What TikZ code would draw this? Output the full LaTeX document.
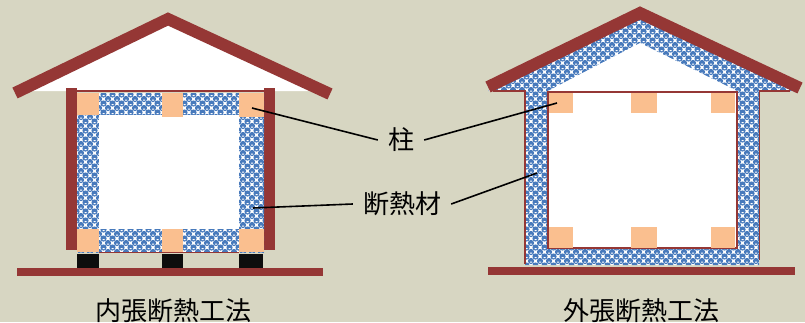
\documentclass[tikz,border=0pt]{standalone}
\usepackage{fontspec}
\setmainfont{Noto Sans CJK JP}
\usepackage{tikz}

\definecolor{bg}{RGB}{215,214,194}
\definecolor{roofred}{RGB}{149,55,53}
\definecolor{postorange}{RGB}{250,191,143}
\definecolor{bubbleblue}{RGB}{72,122,188}

\tikzset{
roof/.style={
	draw=roofred,
	line width=12pt,
	line join=miter
},
wall/.style={
	fill=roofred
},
thinred/.style={
	draw=roofred,
	line width=1.2pt
},
bead/.style={
	fill=bubbleblue
},
post/.style={
	fill=postorange
},
footing/.style={
	fill=black!95
},
callout/.style={
	font=\fontsize{26pt}{30pt}\selectfont,
	inner xsep=10pt,
	inner ysep=0pt
},
caption/.style={
	font=\fontsize{26pt}{30pt}\selectfont,
	anchor=north,
	inner sep=0pt
},
leader/.style={
	draw=black,
	line width=1.6pt
}
}

\begin{document}
\begin{tikzpicture}[x=1pt, y=-1pt]

\useasboundingbox (0,0) rectangle (805,322);
\fill[bg] (0,0) rectangle (805,322);

% inside insulation
\fill[white] (20,91) -- (168,19) -- (320,91) -- cycle;
\draw[roof] (15,93) -- (168,19) -- (330,94);
\fill[wall] (66,88) rectangle (77,250);
\fill[wall] (264,88) rectangle (275,250);
\begin{scope}
	\clip (77,93) rectangle (264,252);
	\fill[white] (77,93) rectangle (264,252);
	% foam beads with a white glint
	\foreach \bx in {8,...,30} {
		\foreach \by in {10,...,28} {
			\fill[bead] (\bx*9,\by*9) circle[radius=3.1] (\bx*9+4.5,\by*9+4.5) circle[radius=3.1];
			\fill[white] (\bx*9-1,\by*9+0.6) rectangle ++(2,1) (\bx*9+3.5,\by*9+5.1) rectangle ++(2,1);
		}
	}
\end{scope}
\fill[white] (99,115) rectangle (239,229);
\draw[thinred] (77,91) -- (264,91);
\draw[thinred] (99,252.5) -- (239,252.5);

\fill[post] (77,93) rectangle (99,115);
\fill[post] (162,93) rectangle (183,117);
\fill[post] (239,93) rectangle (264,117);
\fill[post] (77,229) rectangle (99,252);
\fill[post] (162,229) rectangle (183,252);
\fill[post] (239,229) rectangle (264,252);

\fill[footing] (77,254) rectangle (99,270);
\fill[footing] (162,254) rectangle (183,268);
\fill[footing] (239,254) rectangle (263,268);
\fill[wall] (17,268) rectangle (323,276);

% outside insulation
\begin{scope}
	\clip (488,91) -- (640,13) -- (797,91) -- (759,91) -- (759,265) -- (525,265) -- (525,91) -- cycle;
	\fill[white] (480,5) rectangle (805,270);
	\foreach \bx in {53,...,89} {
		\foreach \by in {0,...,30} {
			\fill[bead] (\bx*9,\by*9) circle[radius=3.1] (\bx*9+4.5,\by*9+4.5) circle[radius=3.1];
			\fill[white] (\bx*9-1,\by*9+0.6) rectangle ++(2,1) (\bx*9+3.5,\by*9+5.1) rectangle ++(2,1);
		}
	}
\end{scope}
\fill[white] (548,248) -- (548,91) -- (640,43) -- (737,91) -- (737,248) -- cycle;
\draw[thinred] (548,92) rectangle (737,248);
\draw[thinred] (493,91) -- (525,91) -- (525,264);
\draw[thinred] (759,91) -- (790,91);
\draw[thinred] (759.5,91) -- (759.5,260);
\draw[roof] (488,87) -- (640,13) -- (800,88);

\fill[post] (549,93) rectangle (573,113);
\fill[post] (631,93) rectangle (657,113);
\fill[post] (711,93) rectangle (735,113);
\fill[post] (549,227) rectangle (573,248);
\fill[post] (631,227) rectangle (657,248);
\fill[post] (711,227) rectangle (735,248);

\fill[wall] (488,267) rectangle (795,275);

% labels
\node[callout] (hashira) at (401,140) {柱};
\node[callout] (dannetsu) at (402,204) {断熱材};
\node[caption] (uchibari) at (173,298) {内張断熱工法};
\node[caption] (sotobari) at (641,298) {外張断熱工法};

\coordinate (inPost) at (252,108);
\coordinate (outPost) at (557,103);
\coordinate (inInsul) at (253,208);
\coordinate (outInsul) at (537,173);

\draw[leader] (inPost) -- (hashira.west);
\draw[leader] (hashira.east) -- (outPost);
\draw[leader] (inInsul) -- (dannetsu.west);
\draw[leader] (dannetsu.east) -- (outInsul);

\end{tikzpicture}
\end{document}
